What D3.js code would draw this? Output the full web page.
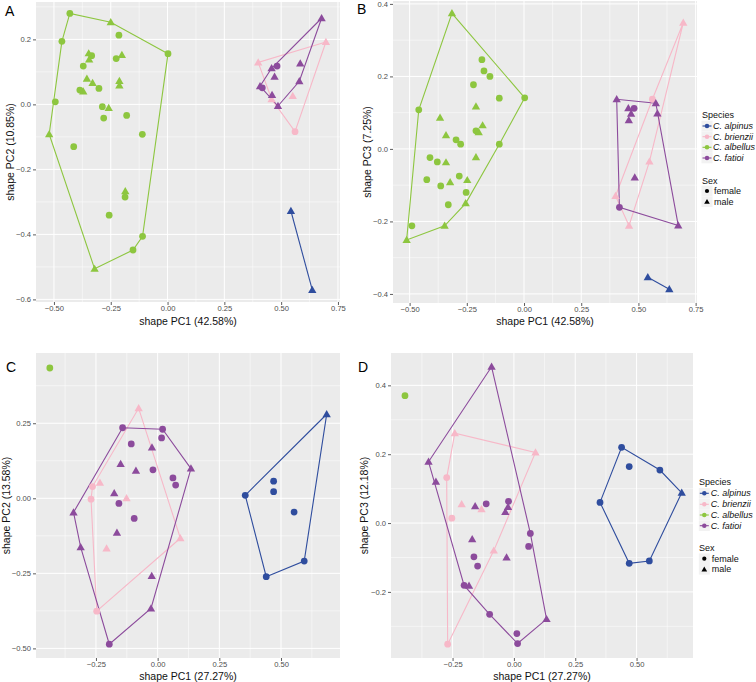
<!DOCTYPE html>
<html><head><meta charset="utf-8">
<script src="https://cdn.jsdelivr.net/npm/d3@7"></script>
<style>body{margin:0;background:#fff} svg{display:block} text{font-family:"Liberation Sans",Arial,Helvetica,sans-serif}</style>
</head><body><svg id="chart" width="756" height="682"></svg>
<script>
const species = ["C. alpinus","C. brienzii","C. albellus","C. fatioi"];
const speciesColors = ["#2f4d9e","#f7b8c8","#8dc63f","#8c4b9c"];
const sexLabels = ["female","male"];

// rows: [species index, sex (f/m), PC x, PC y]
const pointsA = [
 [0,"m",0.543,-0.328],[0,"m",0.637,-0.571],
 [1,"m",0.399,0.129],[1,"m",0.697,0.192],[1,"m",0.458,0.016],[1,"m",0.551,0.026],[1,"f",0.561,-0.084],
 [2,"f",-0.430,0.280],[2,"f",-0.465,0.194],[2,"f",-0.214,0.213],[2,"f",-0.334,0.150],[2,"f",-0.371,0.118],
 [2,"f",-0.226,0.141],[2,"f",-0.386,0.044],[2,"f",-0.302,0.049],[2,"f",-0.494,0.008],[2,"f",-0.287,-0.007],
 [2,"f",-0.281,-0.042],[2,"f",-0.180,-0.034],[2,"f",-0.111,-0.092],[2,"f",-0.413,-0.130],[2,"f",-0.187,-0.285],
 [2,"f",-0.257,-0.341],[2,"f",-0.110,-0.406],[2,"f",-0.152,-0.448],[2,"f",0.002,0.156],
 [2,"m",-0.250,0.253],[2,"m",-0.347,0.157],[2,"m",-0.345,0.138],[2,"m",-0.201,0.152],[2,"m",-0.355,0.079],
 [2,"m",-0.330,0.066],[2,"m",-0.371,0.040],[2,"m",-0.212,0.072],[2,"m",-0.212,0.058],[2,"m",-0.259,-0.011],
 [2,"m",-0.521,-0.092],[2,"m",-0.186,-0.267],[2,"m",-0.321,-0.506],
 [3,"m",0.678,0.265],[3,"m",0.458,0.111],[3,"m",0.584,0.126],[3,"m",0.471,0.085],[3,"m",0.580,0.071],
 [3,"m",0.407,0.056],[3,"m",0.460,0.029],[3,"m",0.486,-0.005],[3,"f",0.482,0.118],[3,"f",0.417,0.051]
];
const pointsB = [
 [0,"m",0.541,-0.354],[0,"m",0.635,-0.387],
 [1,"m",0.696,0.348],[1,"f",0.561,0.137],[1,"m",0.548,-0.035],[1,"m",0.400,-0.130],[1,"m",0.459,-0.212],
 [2,"f",-0.184,0.246],[2,"f",-0.175,0.215],[2,"f",-0.149,0.200],[2,"f",-0.221,0.177],[2,"f",-0.108,0.140],
 [2,"f",0.003,0.141],[2,"f",-0.460,0.108],[2,"f",-0.210,0.050],[2,"f",-0.297,0.025],[2,"f",-0.277,0.013],
 [2,"f",-0.108,0.013],[2,"f",-0.411,-0.024],[2,"f",-0.379,-0.036],[2,"f",-0.425,-0.085],[2,"f",-0.283,-0.075],
 [2,"f",-0.364,-0.102],[2,"f",-0.253,-0.120],[2,"f",-0.331,-0.154],[2,"f",-0.490,-0.212],
 [2,"m",-0.315,0.374],[2,"m",-0.210,0.117],[2,"m",-0.367,0.086],[2,"m",-0.181,0.065],[2,"m",-0.198,0.046],
 [2,"m",-0.341,0.038],[2,"m",-0.210,-0.023],[2,"m",-0.341,-0.037],[2,"m",-0.323,-0.092],[2,"m",-0.248,-0.086],
 [2,"m",-0.255,-0.150],[2,"m",-0.347,-0.212],[2,"m",-0.513,-0.251],
 [3,"m",0.405,0.137],[3,"m",0.576,0.126],[3,"m",0.583,0.098],[3,"m",0.456,0.112],[3,"m",0.468,0.097],
 [3,"m",0.458,0.079],[3,"m",0.484,-0.079],[3,"m",0.674,-0.211],[3,"f",0.481,0.112],[3,"f",0.417,-0.161]
];
const pointsC = [
 [0,"f",0.355,0.010],[0,"f",0.470,0.057],[0,"f",0.470,0.022],[0,"f",0.553,-0.046],[0,"f",0.594,-0.209],
 [0,"f",0.440,-0.261],[0,"m",0.685,0.280],
 [1,"f",-0.264,0.039],[1,"f",-0.270,-0.003],[1,"f",-0.247,-0.376],[1,"m",-0.234,0.052],[1,"m",-0.077,0.300],
 [1,"m",-0.126,0.000],[1,"m",-0.207,-0.167],[1,"m",0.092,-0.133],
 [2,"f",-0.437,0.434],
 [3,"f",-0.142,0.235],[3,"f",0.020,0.230],[3,"f",0.016,0.201],[3,"f",-0.107,0.181],[3,"f",-0.019,0.095],
 [3,"f",0.062,0.068],[3,"f",0.073,0.044],[3,"f",-0.157,-0.017],[3,"f",-0.095,-0.067],[3,"f",-0.196,-0.486],
 [3,"m",-0.023,0.169],[3,"m",-0.150,0.114],[3,"m",-0.088,0.092],[3,"m",0.135,0.099],[3,"m",-0.176,0.017],
 [3,"m",-0.341,-0.047],[3,"m",-0.165,-0.115],[3,"m",-0.312,-0.163],[3,"m",-0.024,-0.259],[3,"m",-0.027,-0.367]
];
const pointsD = [
 [0,"f",0.439,0.220],[0,"f",0.470,0.164],[0,"f",0.595,0.154],[0,"f",0.351,0.060],[0,"f",0.470,-0.117],
 [0,"f",0.552,-0.110],[0,"m",0.684,0.088],
 [1,"f",-0.274,0.132],[1,"f",-0.253,0.014],[1,"f",-0.270,-0.352],[1,"m",-0.241,0.261],[1,"m",0.088,0.205],
 [1,"m",-0.213,0.055],[1,"m",-0.132,0.040],[1,"m",-0.082,-0.080],
 [2,"f",-0.444,0.370],
 [3,"m",-0.091,0.454],[3,"m",-0.348,0.178],[3,"m",-0.318,0.120],[3,"m",-0.158,0.049],[3,"m",-0.024,0.047],
 [3,"m",-0.035,0.032],[3,"m",-0.170,-0.047],[3,"m",-0.030,-0.100],[3,"m",-0.183,-0.182],[3,"m",0.133,-0.279],
 [3,"f",-0.113,0.056],[3,"f",-0.022,0.063],[3,"f",0.067,-0.030],[3,"f",0.060,-0.068],[3,"f",-0.163,-0.098],
 [3,"f",-0.148,-0.125],[3,"f",-0.203,-0.181],[3,"f",-0.099,-0.265],[3,"f",0.012,-0.321],[3,"f",0.015,-0.350]
];

const xTicksAB = [-0.5,-0.25,0,0.25,0.5,0.75];
const xTickLabelsAB = ["\u22120.50","\u22120.25","0.00","0.25","0.50","0.75"];
const yTicksA = [-0.6,-0.4,-0.2,0,0.2];
const yTickLabelsA = ["\u22120.6","\u22120.4","\u22120.2","0.0","0.2"];
const yTicksB = [-0.4,-0.2,0,0.2,0.4];
const yTickLabelsB = ["\u22120.4","\u22120.2","0.0","0.2","0.4"];
const xTicksCD = [-0.25,0,0.25,0.5];
const xTickLabelsCD = ["\u22120.25","0.00","0.25","0.50"];
const yTicksC = [-0.5,-0.25,0,0.25];
const yTickLabelsC = ["\u22120.50","\u22120.25","0.00","0.25"];
const yTicksD = [-0.2,0,0.2,0.4];
const yTickLabelsD = ["\u22120.2","0.0","0.2","0.4"];

const panels = [
 {tag:"A", data:pointsA, rect:[36,2,340,302], xlim:[-0.579,0.759], ylim:[-0.608,0.315],
  xt:xTicksAB, xl:xTickLabelsAB, yt:yTicksA, yl:yTickLabelsA,
  xtitle:"shape PC1 (42.58%)", ytitle:"shape PC2 (10.85%)", tagPos:[5,16], xtY:325, ytX:14},
 {tag:"B", data:pointsB, rect:[393,1,697,303], xlim:[-0.5726,0.756], ylim:[-0.425,0.408],
  xt:xTicksAB, xl:xTickLabelsAB, yt:yTicksB, yl:yTickLabelsB,
  xtitle:"shape PC1 (42.58%)", ytitle:"shape PC3 (7.25%)", tagPos:[357,14], xtY:325, ytX:371},
 {tag:"C", data:pointsC, rect:[36,353,340,658], xlim:[-0.493,0.739], ylim:[-0.532,0.484],
  xt:xTicksCD, xl:xTickLabelsCD, yt:yTicksC, yl:yTickLabelsC,
  xtitle:"shape PC1 (27.27%)", ytitle:"shape PC2 (13.58%)", tagPos:[6,372], xtY:680, ytX:10},
 {tag:"D", data:pointsD, rect:[391,353,693,658], xlim:[-0.501,0.730], ylim:[-0.392,0.494],
  xt:xTicksCD, xl:xTickLabelsCD, yt:yTicksD, yl:yTickLabelsD,
  xtitle:"shape PC1 (27.27%)", ytitle:"shape PC3 (12.18%)", tagPos:[358,372], xtY:680, ytX:368}
];

const svg = d3.select("#chart");
const circleSym = d3.symbol().type(d3.symbolCircle).size(36);
const triSym = d3.symbol().type(d3.symbolTriangle).size(30);

function minorOf(ticks, lim){
  const step = ticks[1]-ticks[0];
  const out = [];
  for (let i=-1;i<ticks.length;i++){
    const v = (i<0? ticks[0]-step/2 : ticks[i]+step/2);
    if (v>lim[0] && v<lim[1]) out.push(v);
  }
  return out;
}

panels.forEach(p=>{
  const [x0,y0,x1,y1] = p.rect;
  const x = d3.scaleLinear().domain(p.xlim).range([x0,x1]);
  const y = d3.scaleLinear().domain(p.ylim).range([y1,y0]);
  const g = svg.append("g");
  g.append("rect").attr("x",x0).attr("y",y0).attr("width",x1-x0).attr("height",y1-y0).attr("fill","#ebebeb");
  minorOf(p.xt,p.xlim).forEach(v=>g.append("line").attr("x1",x(v)).attr("x2",x(v)).attr("y1",y0).attr("y2",y1).attr("stroke","#fff").attr("stroke-width",0.5));
  minorOf(p.yt,p.ylim).forEach(v=>g.append("line").attr("y1",y(v)).attr("y2",y(v)).attr("x1",x0).attr("x2",x1).attr("stroke","#fff").attr("stroke-width",0.5));
  p.xt.forEach(v=>g.append("line").attr("x1",x(v)).attr("x2",x(v)).attr("y1",y0).attr("y2",y1).attr("stroke","#fff").attr("stroke-width",1));
  p.yt.forEach(v=>g.append("line").attr("y1",y(v)).attr("y2",y(v)).attr("x1",x0).attr("x2",x1).attr("stroke","#fff").attr("stroke-width",1));
  const xAxis = d3.axisBottom(x).tickValues(p.xt).tickFormat((d,i)=>p.xl[i]).tickSize(3).tickPadding(1);
  const yAxis = d3.axisLeft(y).tickValues(p.yt).tickFormat((d,i)=>p.yl[i]).tickSize(3).tickPadding(2);
  const gx = g.append("g").attr("transform",`translate(0,${y1})`).call(xAxis);
  const gy = g.append("g").attr("transform",`translate(${x0},0)`).call(yAxis);
  [gx,gy].forEach(a=>{
    a.select(".domain").remove();
    a.selectAll(".tick line").attr("stroke","#333").attr("stroke-width",0.8);
    a.selectAll(".tick text").attr("fill","#4d4d4d").attr("font-size","7.6px").attr("font-family","Liberation Sans, Arial, sans-serif");
  });
  species.forEach((s,si)=>{
    const pts = p.data.filter(d=>d[0]===si).map(d=>[x(d[2]),y(d[3])]);
    let path;
    if (pts.length>=3){
      const h = d3.polygonHull(pts);
      path = "M"+h.map(q=>q.join(",")).join("L")+"Z";
    } else if (pts.length===2){
      path = "M"+pts.map(q=>q.join(",")).join("L");
    } else return;
    g.append("path").attr("d",path).attr("fill","none").attr("stroke",speciesColors[si]).attr("stroke-width",1.1);
  });
  p.data.forEach(d=>{
    g.append("path").attr("d", d[1]==="f"?circleSym():triSym())
     .attr("transform",`translate(${x(d[2])},${y(d[3]) + (d[1]==="m"?0.6:0)})`)
     .attr("fill",speciesColors[d[0]]);
  });
  g.append("text").attr("x",(x0+x1)/2).attr("y",p.xtY).attr("text-anchor","middle").attr("font-size","10.5px").attr("fill","#111").text(p.xtitle);
  g.append("text").attr("transform",`translate(${p.ytX},${(y0+y1)/2}) rotate(-90)`).attr("text-anchor","middle").attr("font-size","10.5px").attr("fill","#111").text(p.ytitle);
  g.append("text").attr("x",p.tagPos[0]).attr("y",p.tagPos[1]).attr("font-size","14px").attr("fill","#000").text(p.tag);
});

function legend(tx, keyX, textX, ys){
  const g = svg.append("g");
  g.append("text").attr("x",tx).attr("y",ys.title).attr("dominant-baseline","central").attr("font-size","9px").attr("fill","#111").text("Species");
  species.forEach((s,i)=>{
    const cy = ys.items[i];
    g.append("rect").attr("x",keyX-5.5).attr("y",cy-5.3).attr("width",11).attr("height",10.6).attr("fill","#f2f2f2");
    g.append("line").attr("x1",keyX-4.5).attr("x2",keyX+4.5).attr("y1",cy).attr("y2",cy).attr("stroke",speciesColors[i]).attr("stroke-width",1.1);
    g.append("path").attr("d",d3.symbol().type(d3.symbolCircle).size(16)()).attr("transform",`translate(${keyX},${cy})`).attr("fill",speciesColors[i]);
    g.append("text").attr("x",textX).attr("y",cy).attr("dominant-baseline","central").attr("font-size","9px").attr("font-style","italic").attr("fill","#111").text(s);
  });
  g.append("text").attr("x",tx).attr("y",ys.sexTitle).attr("dominant-baseline","central").attr("font-size","9px").attr("fill","#111").text("Sex");
  sexLabels.forEach((s,i)=>{
    const cy = ys.sex[i];
    g.append("rect").attr("x",keyX-5.5).attr("y",cy-5.3).attr("width",11).attr("height",10.6).attr("fill","#f2f2f2");
    g.append("path").attr("d",d3.symbol().type(i===0?d3.symbolCircle:d3.symbolTriangle).size(14)()).attr("transform",`translate(${keyX},${cy+(i?0.5:0)})`).attr("fill","#000");
    g.append("text").attr("x",textX+1).attr("y",cy).attr("dominant-baseline","central").attr("font-size","9px").attr("fill","#111").text(s);
  });
}
legend(702, 707, 713, {title:115, items:[126,136.7,147.3,158], sexTitle:180.7, sex:[191,201.7]});
legend(699, 704.3, 710.7, {title:482.3, items:[493.3,504.3,515,525.7], sexTitle:548.3, sex:[558.7,569.3]});
</script></body></html>
